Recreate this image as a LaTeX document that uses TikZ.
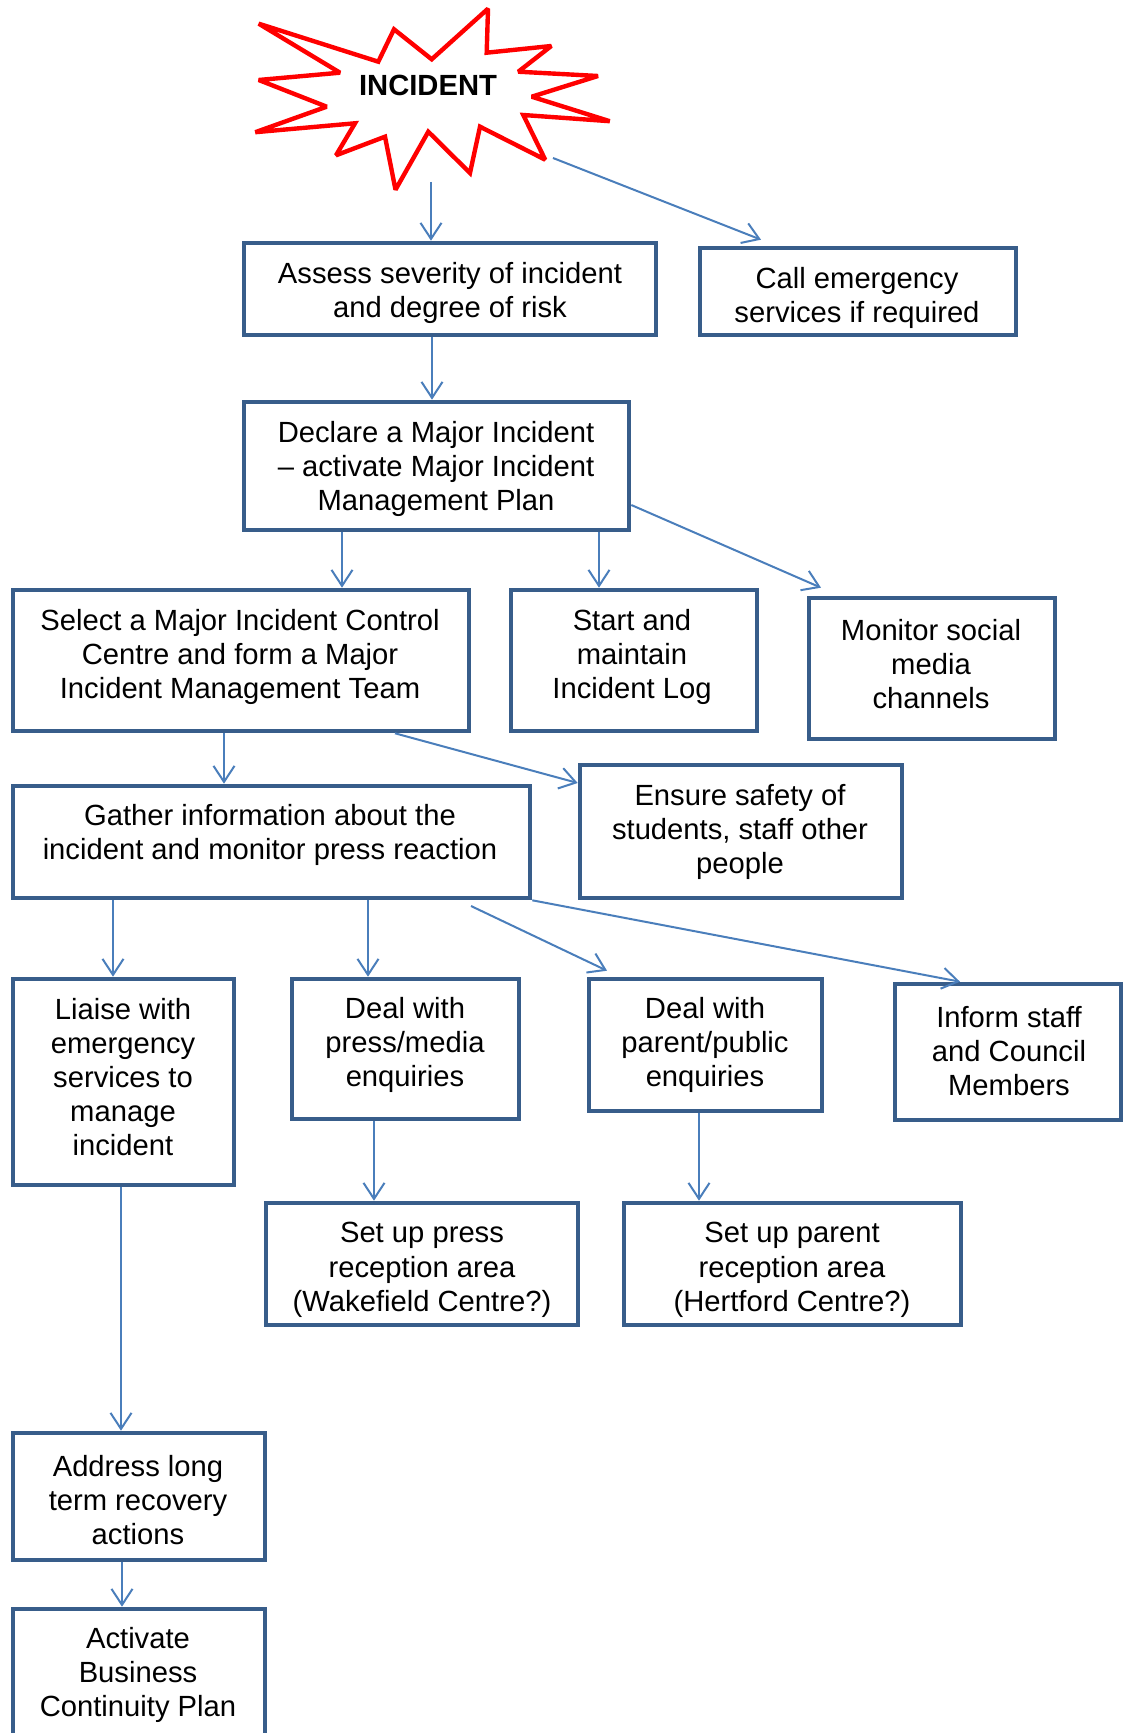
\documentclass[tikz,border=0pt]{standalone}
\usepackage{fontspec}
\setmainfont{Liberation Sans}
\usetikzlibrary{arrows.meta,fit}
\definecolor{boxc}{HTML}{385D8A}
\definecolor{arrc}{HTML}{4A7EBB}
\begin{document}
\begin{tikzpicture}[x=0.5pt,y=-0.5pt,
  box/.style={draw=boxc, line width=2.3pt, inner sep=0pt, fill=white},
  lbl/.style={align=center, font=\fontsize{14.6}{17.1}\selectfont, inner sep=0pt},
  arr/.style={draw=arrc, line width=1pt, -{Straight Barb[length=8pt,width=10.5pt]}},
  starline/.style={draw=red, line width=2.2pt, fill=white, line join=miter, miter limit=2.5}]
\useasboundingbox (0,0) rectangle (1123,1733);
\clip (0,0) rectangle (1123,1733);

% star
\draw[starline] (258.7,23.7) -- (378.3,61.7) -- (394,29.3) -- (431.7,59.3) -- (488,8.7)
 -- (486.7,52.7) -- (551.3,46) -- (518.3,71.7) -- (598,76) -- (531.7,96.7)
 -- (609.7,121.2) -- (523.3,115) -- (545.2,159.7) -- (480,126.7) -- (470,173)
 -- (428.3,131.7) -- (395.5,189.7) -- (385,136.7) -- (336,155.3) -- (355,123.3)
 -- (255.3,132.2) -- (326.7,106.7) -- (258.7,80) -- (340,72.7) -- cycle;
\node[font=\fontsize{14.6}{17}\selectfont\bfseries, inner sep=0pt] (incident) at (428,85) {INCIDENT};
\coordinate (s1) at (431,182);
\coordinate (s2) at (553,158);

% boxes
\node[box, fit={(244,243) (656,335)}] (assess) {};
\node[box, fit={(700,248) (1016,335)}] (call) {};
\node[box, fit={(244,402) (629,530)}] (declare) {};
\node[box, fit={(13,590) (469,731)}] (select) {};
\node[box, fit={(511,590) (757,731)}] (start) {};
\node[box, fit={(809,598) (1055,739)}] (monitor) {};
\node[box, fit={(13,786) (530,898)}] (gather) {};
\node[box, fit={(580,765) (902,898)}] (ensure) {};
\node[box, fit={(13,979) (234,1185)}] (liaise) {};
\node[box, fit={(292,979) (519,1119)}] (dpress) {};
\node[box, fit={(589,979) (822,1111)}] (dparent) {};
\node[box, fit={(895,984) (1121,1120)}] (inform) {};
\node[box, fit={(266,1203) (578,1325)}] (spress) {};
\node[box, fit={(624,1203) (961,1325)}] (sparent) {};
\node[box, fit={(13,1433) (265,1560)}] (address) {};
\node[box, fit={(13,1609) (265,1770)}] (activate) {};

% labels
\node[lbl] (assessT) at (450,293) {Assess severity of incident\\and degree of risk};
\node[lbl] (callT) at (857,298) {Call emergency\\services if required};
\node[lbl] (declareT) at (436,469) {Declare a Major Incident\\– activate Major Incident\\Management Plan};
\node[lbl] (selectT) at (240,657) {Select a Major Incident Control\\Centre and form a Major\\Incident Management Team};
\node[lbl] (startT) at (632,657) {Start and\\maintain\\Incident Log};
\node[lbl] (monitorT) at (931,664) {Monitor social\\media\\channels};
\node[lbl] (gatherT) at (270,835) {Gather information about the\\incident and monitor press reaction};
\node[lbl] (ensureT) at (740,832) {Ensure safety of\\students, staff other\\people};
\node[lbl] (liaiseT) at (123,1077) {Liaise with\\emergency\\services to\\manage\\incident};
\node[lbl] (dpressT) at (405,1045) {Deal with\\press/media\\enquiries};
\node[lbl] (dparentT) at (705,1045) {Deal with\\parent/public\\enquiries};
\node[lbl] (informT) at (1009,1051) {Inform staff\\and Council\\Members};
\node[lbl] (spressT) at (422,1270) {Set up press\\reception area\\(Wakefield Centre?)};
\node[lbl] (sparentT) at (792,1270) {Set up parent\\reception area\\(Hertford Centre?)};
\node[lbl] (addressT) at (138,1500) {Address long\\term recovery\\actions};
\node[lbl] (activateT) at (138,1675) {Activate\\Business\\Continuity Plan};

% connectors
\draw[arr] (s1) -- (s1 |- assess.north);
\draw[arr] (s2) -- ([yshift=3pt]call.north -| 761,0);
\draw[arr] (assess.south -| 432,0) -- (declare.north -| 432,0);
\draw[arr] (declare.south -| 342,0) -- (select.north -| 342,0);
\draw[arr] (declare.south -| 599,0) -- (start.north -| 599,0);
\draw[arr] (declare.east |- 0,505) -- ([yshift=4pt]monitor.north -| 821,0);
\draw[arr] (select.south -| 224,0) -- (gather.north -| 224,0);
\draw[arr] (select.south -| 395,0) -- (ensure.west |- 0,783);
\draw[arr] (gather.south -| 113,0) -- (liaise.north -| 113,0);
\draw[arr] (gather.south -| 368,0) -- (dpress.north -| 368,0);
\coordinate (g1) at (471,906);
\draw[arr] (g1) -- ([yshift=3pt]dparent.north -| 607,0);
\draw[arr] (gather.south east) -- (inform.north -| 960,0);
\draw[arr] (dpress.south -| 374,0) -- (spress.north -| 374,0);
\draw[arr] (dparent.south -| 699,0) -- (sparent.north -| 699,0);
\draw[arr] (liaise.south -| 121,0) -- (address.north -| 121,0);
\draw[arr] (address.south -| 122,0) -- (activate.north -| 122,0);
\end{tikzpicture}
\end{document}
